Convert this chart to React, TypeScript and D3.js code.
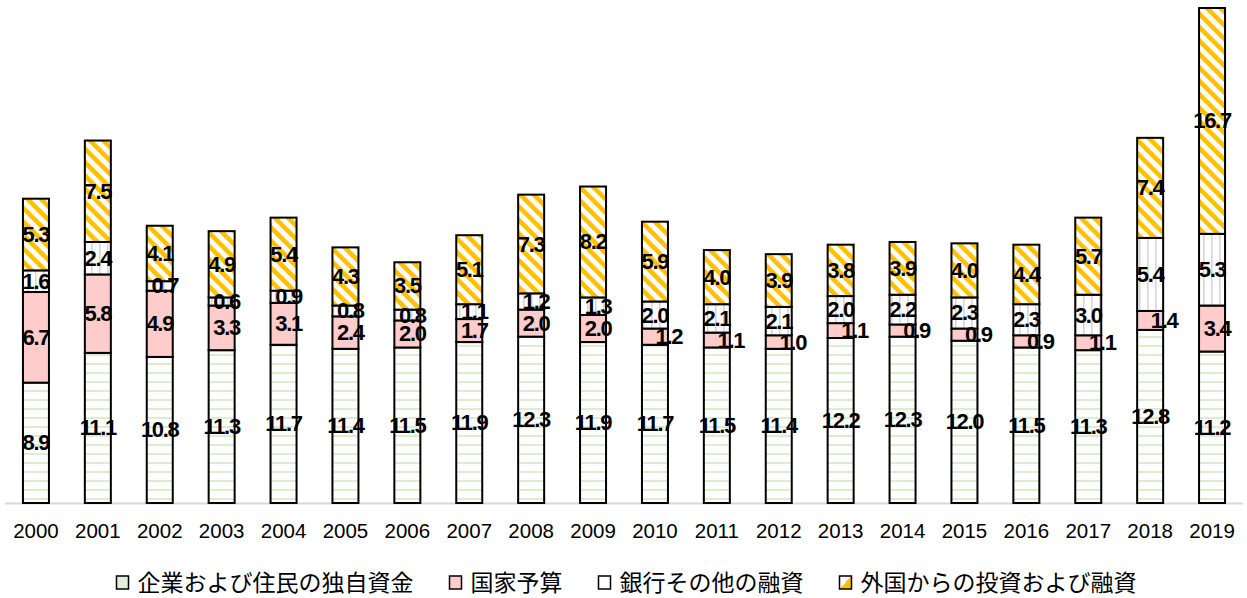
import React, { useEffect, useRef } from "react";
import * as d3 from "d3";

const years = ["2000","2001","2002","2003","2004","2005","2006","2007","2008","2009","2010","2011","2012","2013","2014","2015","2016","2017","2018","2019"];
const ownFunds = [8.9,11.1,10.8,11.3,11.7,11.4,11.5,11.9,12.3,11.9,11.7,11.5,11.4,12.2,12.3,12.0,11.5,11.3,12.8,11.2];
const stateBudget = [6.7,5.8,4.9,3.3,3.1,2.4,2.0,1.7,2.0,2.0,1.2,1.1,1.0,1.1,0.9,0.9,0.9,1.1,1.4,3.4];
const bankLoans = [1.6,2.4,0.7,0.6,0.9,0.8,0.8,1.1,1.2,1.3,2.0,2.1,2.1,2.0,2.2,2.3,2.3,3.0,5.4,5.3];
const foreignInv = [5.3,7.5,4.1,4.9,5.4,4.3,3.5,5.1,7.3,8.2,5.9,4.0,3.9,3.8,3.9,4.0,4.4,5.7,7.4,16.7];
const seriesNames = ["企業および住民の独自資金","国家予算","銀行その他の融資","外国からの投資および融資"];

const W = 1247, H = 598;

export default function App() {
  const ref = useRef<SVGSVGElement>(null);
  useEffect(() => {
    document.body.style.margin = "0";
    const svg = d3.select(ref.current);
    svg.selectAll("*").remove();

    const defs = svg.append("defs");
    const p1 = defs.append("pattern").attr("id","pOwn").attr("patternUnits","userSpaceOnUse").attr("width",8).attr("height",9);
    p1.append("rect").attr("width",8).attr("height",9).attr("fill","#fff");
    p1.append("rect").attr("y",3).attr("width",8).attr("height",2).attr("fill","#dcedd2");
    const p3 = defs.append("pattern").attr("id","pBank").attr("patternUnits","userSpaceOnUse").attr("width",8).attr("height",8);
    p3.append("rect").attr("width",8).attr("height",8).attr("fill","#fff");
    p3.append("rect").attr("x",3).attr("width",1.6).attr("height",8).attr("fill","#d6d6d6");
    const p4 = defs.append("pattern").attr("id","pFor").attr("patternUnits","userSpaceOnUse").attr("width",9.5).attr("height",10).attr("patternTransform","rotate(-45)");
    p4.append("rect").attr("width",9.5).attr("height",10).attr("fill","#fff");
    p4.append("rect").attr("width",4.6).attr("height",10).attr("fill","#ffc000");
    const fills = ["url(#pOwn)","#ffcccc","url(#pBank)","url(#pFor)"];
    const legendFills = ["#e2f0d9","#ffcccc","#ffffff","url(#lgFor)"];
    const lg = defs.append("linearGradient").attr("id","lgFor").attr("x1","0").attr("y1","0").attr("x2","1").attr("y2","1");
    lg.append("stop").attr("offset","0.5").attr("stop-color","#fff");
    lg.append("stop").attr("offset","0.5").attr("stop-color","#ffc000");

    const baseY = 503;
    const x = d3.scaleBand<string>().domain(years).range([5, 1243]).paddingInner(0.58).paddingOuter(0.29);
    const totals = years.map((_, i) => ownFunds[i] + stateBudget[i] + bankLoans[i] + foreignInv[i]);
    const y = d3.scaleLinear().domain([0, d3.max(totals) as number]).range([baseY, 8]);

    const rows = years.map((yr, i) => ({ year: yr, s0: ownFunds[i], s1: stateBudget[i], s2: bankLoans[i], s3: foreignInv[i] }));
    const stack = d3.stack<any>().keys(["s0","s1","s2","s3"])(rows);

    svg.append("line").attr("x1",5).attr("x2",1243).attr("y1",baseY+0.5).attr("y2",baseY+0.5).attr("stroke","#d9d9d9").attr("stroke-width",2);

    const bw = x.bandwidth();
    stack.forEach((layer, si) => {
      const g = svg.append("g");
      g.selectAll("rect").data(layer).join("rect")
        .attr("x", (d: any) => x(d.data.year)!)
        .attr("y", (d: any) => y(d[1]))
        .attr("width", bw)
        .attr("height", (d: any) => y(d[0]) - y(d[1]))
        .attr("fill", fills[si])
        .attr("stroke", "#000")
        .attr("stroke-width", 2);
    });
    stack.forEach((layer, si) => {
      const g = svg.append("g");
      g.selectAll("text").data(layer).join("text")
        .attr("x", (d: any) => {
          const v = d[1] - d[0];
          let dx = 0;
          if (si === 1) dx = v < 1.5 ? 14 : v < 3.5 ? 5 : 0;
          if (si === 2) dx = v < 1.5 ? 5 : 0;
          return x(d.data.year)! + bw / 2 + dx;
        })
        .attr("y", (d: any) => (y(d[0]) + y(d[1])) / 2)
        .attr("text-anchor", "middle")
        .attr("dominant-baseline", "central")
        .attr("font-family", "'Liberation Sans', Arial, sans-serif")
        .attr("font-weight", "bold")
        .attr("font-size", 22)
        .attr("letter-spacing", -1.3)
        .attr("fill", "#000")
        .text((d: any) => (d[1] - d[0]).toFixed(1));
    });

    svg.append("g").selectAll("text").data(years).join("text")
      .attr("x", d => x(d)! + bw / 2)
      .attr("y", 538)
      .attr("text-anchor", "middle")
      .attr("font-family", "'Liberation Sans', Arial, sans-serif")
      .attr("font-size", 20.5)
      .attr("fill", "#000")
      .text(d => d);

    const lgG = svg.append("g");
    const items = seriesNames.map((name, i) => {
      const it = lgG.append("g");
      it.append("rect").attr("x", 0).attr("y", -7).attr("width", 12).attr("height", 13)
        .attr("fill", legendFills[i]).attr("stroke", "#000").attr("stroke-width", 1.5);
      const t = it.append("text").attr("x", 21).attr("y", 8)
        .attr("font-family", "'Noto Sans CJK JP', sans-serif").attr("font-size", 23).attr("fill", "#000").text(name);
      const w = 21 + (t.node() as SVGTextElement).getComputedTextLength();
      return { it, w };
    });
    const gap = 36;
    const total = d3.sum(items, d => d.w) + gap * (items.length - 1);
    let cx = W / 2 - total / 2 + 3;
    items.forEach(({ it, w }) => {
      it.attr("transform", `translate(${cx},583)`);
      cx += w + gap;
    });
  }, []);
  return <svg ref={ref} width={W} height={H} style={{ display: "block" }} />;
}
